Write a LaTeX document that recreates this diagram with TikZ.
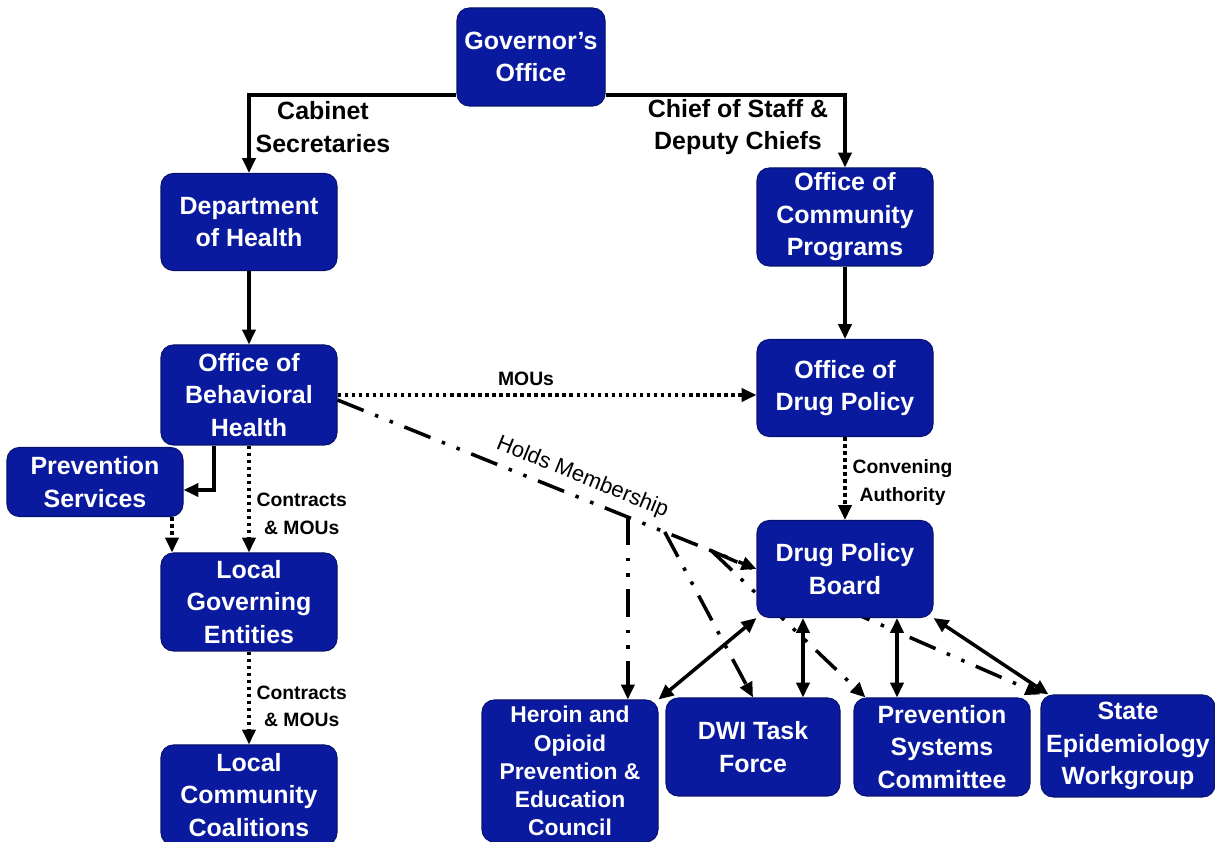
\documentclass[tikz,border=0pt]{standalone}
\usepackage{fontspec}
\setmainfont{Liberation Sans}
\usetikzlibrary{arrows.meta, calc, backgrounds}
\definecolor{boxblue}{RGB}{10,26,158}

\begin{document}
\begin{tikzpicture}[
  orgbox/.style={rectangle, rounded corners=7pt, fill=boxblue, draw=boxblue!70!black, line width=0.6pt, text=white, align=center, inner sep=0pt, minimum width=3.52cm, minimum height=1.96cm, font=\fontsize{14.2}{18.5}\selectfont\bfseries},
  bigtext/.style={align=center, font=\fontsize{14.2}{18.5}\selectfont\bfseries},
  linktext/.style={align=center, font=\fontsize{11}{15.9}\selectfont\bfseries},
  solidarrow/.style={line width=2pt, -{Triangle[length=8.5pt,width=7.5pt]}},
  bothway/.style={line width=2pt, {Triangle[length=8.5pt,width=7.5pt]}-{Triangle[length=8.5pt,width=7.5pt]}},
  dotarrow/.style={line width=2pt, dash pattern=on 2pt off 2pt, -{Triangle[length=8.5pt,width=7.5pt]}},
  memberline/.style={line width=2pt, dash pattern=on 16pt off 7pt on 2pt off 7pt on 2pt off 7pt, -{Triangle[length=8.5pt,width=7.5pt]}}
]
\useasboundingbox (0,0) rectangle (24.3,16.84);

\node[orgbox, minimum width=2.96cm] (gov) at (10.62,15.70) {Governor’s\\Office};
\node[orgbox, minimum height=1.94cm] (doh) at (4.98,12.40) {Department\\of Health};
\node[orgbox] (ocp) at (16.90,12.50) {Office of\\Community\\Programs};
\node[orgbox, minimum height=2.0cm] (obh) at (4.98,8.94) {Office of\\Behavioral\\Health};
\node[orgbox, minimum height=1.94cm] (odp) at (16.90,9.08) {Office of\\Drug Policy};
\node[orgbox, minimum height=1.38cm] (ps) at (1.90,7.20) {Prevention\\Services};
\node[orgbox] (lge) at (4.98,4.80) {Local\\Governing\\Entities};
\node[orgbox, minimum height=1.94cm] (dpb) at (16.90,5.46) {Drug Policy\\Board};
\node[orgbox, minimum height=2.0cm] (lcc) at (4.98,0.94) {Local\\Community\\Coalitions};
\node[orgbox, minimum height=2.84cm, font=\fontsize{13}{16}\selectfont\bfseries] (hopec) at (11.40,1.42) {Heroin and\\Opioid\\Prevention \&\\Education\\Council};
\node[orgbox, minimum width=3.48cm] (dwi) at (15.06,1.90) {DWI Task\\Force};
\node[orgbox] (psc) at (18.84,1.90) {Prevention\\Systems\\Committee};
\node[orgbox, minimum width=3.48cm, minimum height=2.04cm] (sew) at (22.56,1.92) {State\\Epidemiology\\Workgroup};

\node[bigtext] (cabinet) at (6.46,14.30) {Cabinet\\Secretaries};
\node[bigtext] (chief) at (14.76,14.30) {Chief of Staff \&\\Deputy Chiefs};

\draw[solidarrow] (gov.west |- 0,14.94) -| (doh.north);
\draw[solidarrow] (gov.east |- 0,14.94) -| (ocp.north);
\draw[solidarrow] (doh.south) -- (obh.north);
\draw[solidarrow] (ocp.south) -- (odp.north);

\draw[dotarrow] (obh.east) -- node[linktext, above=1pt, pos=0.45] {MOUs} (obh.east -| odp.west);
\draw[dotarrow] (odp.south) -- node[linktext, right, pos=0.55] {Convening\\Authority} (dpb.north);
\draw[solidarrow] ($(obh.south)+(-0.70,0)$) |- ($(ps.east)+(0,-0.16)$);
\draw[dotarrow] (obh.south) -- node[linktext, right, pos=0.64] {Contracts\\\& MOUs} (lge.north);
\coordinate (psdrop) at ($(ps.south)+(1.54,0)$);
\draw[dotarrow] (psdrop) -- (psdrop |- lge.north);
\draw[dotarrow] (lge.south) -- node[linktext, right, pos=0.59] {Contracts\\\& MOUs} (lcc.north);

\coordinate (hmstart) at ($(obh.east)+(0,-0.10)$);
\draw[memberline] (hmstart) -- coordinate[pos=0.693] (hmA) coordinate[pos=0.781] (hmB) coordinate[pos=0.893] (hmC) node[sloped, above=1pt, pos=0.567, font=\fontsize{12.5}{15}\selectfont] {Holds Membership} (dpb.west);
\draw[memberline] (hmA) -- (hmA |- hopec.north);
\draw[memberline] (hmB) -- (dwi.north);
\begin{pgfonlayer}{background}
\draw[memberline] (hmC) -- ($(psc.north west)+(0.24,0)$);
\draw[memberline] (hmC) -- (sew.north west);
\end{pgfonlayer}

\coordinate (dwiup) at ($(dpb.south)+(-0.84,0)$);
\coordinate (pscup) at ($(dpb.south)+(1.04,0)$);
\draw[bothway] (hopec.north east) -- (dpb.south west);
\draw[bothway] (dwiup) -- (dwiup |- dwi.north);
\draw[bothway] (pscup) -- (pscup |- psc.north);
\draw[bothway] (dpb.south east) -- ($(sew.north west)+(0.16,0)$);

\end{tikzpicture}
\end{document}
